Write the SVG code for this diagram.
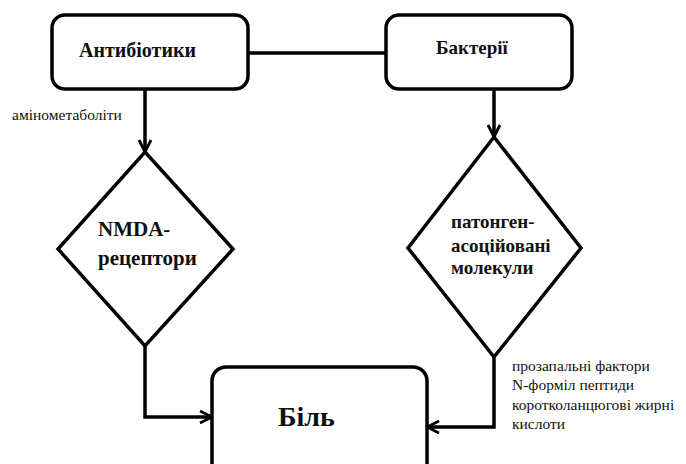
<svg xmlns="http://www.w3.org/2000/svg" width="686" height="464" viewBox="0 0 686 464">
<style>
.shape{fill:#fff;stroke:#000;stroke-width:3.5}
.conn{fill:none;stroke:#000;stroke-width:3.5}
.t{font-family:"Liberation Serif",serif;font-weight:bold;fill:#111}
.l{font-family:"Liberation Serif",serif;fill:#111;font-size:15.5px}
</style>
<defs>
<marker id="arr" viewBox="0 0 14 14" refX="13" refY="7" markerWidth="14" markerHeight="14" markerUnits="userSpaceOnUse" orient="auto">
<path d="M1,1 L13,7 L1,13" fill="none" stroke="#000" stroke-width="2.8"/>
</marker>
</defs>
<rect width="686" height="464" fill="#fff"/>
<g id="connectors">
<line class="conn" x1="248" y1="53" x2="386" y2="53"/>
<line class="conn" x1="145" y1="89" x2="145" y2="152" marker-end="url(#arr)"/>
<line class="conn" x1="494" y1="89" x2="494" y2="137" marker-end="url(#arr)"/>
<polyline class="conn" points="145,346 145,417 212,417" marker-end="url(#arr)"/>
<polyline class="conn" points="494,357 494,427 427,427" marker-end="url(#arr)"/>
</g>
<g id="antibiotics">
<rect class="shape" x="52" y="15" width="196" height="74" rx="13"/>
<text class="t" x="79" y="57" font-size="20">Антибіотики</text>
</g>
<g id="bacteria">
<rect class="shape" x="386" y="15" width="186" height="74" rx="13"/>
<text class="t" x="436" y="54" font-size="19">Бактерії</text>
</g>
<g id="nmda">
<polygon class="shape" points="145,152 233,249 145,346 58,249"/>
<text class="t" x="98" y="236" font-size="21">NMDA-</text>
<text class="t" x="98" y="265" font-size="21">рецептори</text>
</g>
<g id="pamp">
<polygon class="shape" points="494,137 581,248 494,357 408,248"/>
<text class="t" x="451" y="228" font-size="19">патонген-</text>
<text class="t" x="451" y="252" font-size="19">асоційовані</text>
<text class="t" x="451" y="274" font-size="19">молекули</text>
</g>
<g id="pain">
<rect class="shape" x="212" y="367" width="215" height="120" rx="14"/>
<text class="t" x="278" y="426" font-size="28">Біль</text>
</g>
<g id="labels">
<text class="l" x="12" y="120" font-size="14">амінометаболіти</text>
<text class="l" x="512" y="371">прозапальні фактори</text>
<text class="l" x="512" y="390">N-форміл пептиди</text>
<text class="l" x="512" y="410">коротколанцюгові жирні</text>
<text class="l" x="512" y="429">кислоти</text>
</g>
</svg>
